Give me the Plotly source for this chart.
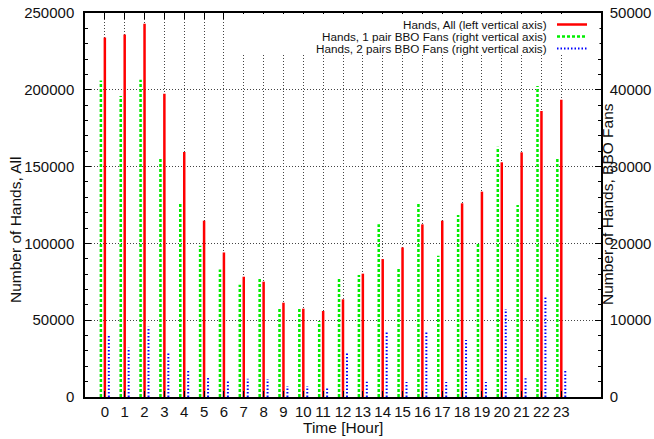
import plotly.graph_objects as go

hours = list(range(24))
hands_all = [234000, 236000, 243000, 197500, 159500, 114800, 94100, 78300,
             75100, 61400, 57500, 56000, 63600, 80300, 89800, 97400,
             112400, 114800, 126100, 133700, 152800, 159300, 186200, 193600]
hands_1pair = [41200, 39200, 41300, 31100, 25300, 19700, 16600, 14600,
               15600, 11600, 11550, 9900, 15450, 15900, 22500, 16900,
               25300, 18400, 23700, 20000, 32600, 25000, 40500, 31250]
hands_2pairs = [7940, 6420, 9150, 5770, 3520, 2520, 2210, 2390,
                2340, 1430, 1430, 1170, 5770, 1990, 8590, 1950,
                8590, 1950, 7420, 1950, 11460, 2430, 13110, 3650]
x_tick_labels = [str(h) for h in hours]
legend_labels = ["Hands, All (left vertical axis)",
                 "Hands, 1 pair BBO Fans (right vertical axis)",
                 "Hands, 2 pairs BBO Fans (right vertical axis)"]

FONT = "Liberation Sans, Arial, sans-serif"
W, H = 654, 439
L, R, T, B = 85, 601, 13, 397


def px(xp):
    return (xp - L) / (R - L)


def py(yp):
    return (B - yp) / (B - T)


def impulses(xs, ys, off):
    xx, yy = [], []
    for x, y in zip(xs, ys):
        xx += [x + off, x + off, None]
        yy += [0, y, None]
    return xx, yy


fig = go.Figure()
gx, gy = impulses(hours, hands_1pair, -0.2)
fig.add_trace(go.Scatter(x=gx, y=gy, mode="lines", yaxis="y2",
                         line=dict(color="#00ee00", width=2.5, dash="3px,2px"),
                         name=legend_labels[1], showlegend=False, hoverinfo="skip"))
rx, ry = impulses(hours, hands_all, 0.0)
fig.add_trace(go.Scatter(x=rx, y=ry, mode="lines", yaxis="y",
                         line=dict(color="#ff0000", width=2.5),
                         name=legend_labels[0], showlegend=False, hoverinfo="skip"))
bx, by = impulses(hours, hands_2pairs, 0.2)
fig.add_trace(go.Scatter(x=bx, y=by, mode="lines", yaxis="y2",
                         line=dict(color="#0000ff", width=2, dash="1.5px,2px"),
                         name=legend_labels[2], showlegend=False, hoverinfo="skip"))

grid = dict(showgrid=True, gridcolor="#444", gridwidth=1, griddash="1px,2px")
axfont = dict(family=FONT, size=15, color="#111")

fig.update_layout(
    width=W, height=H,
    margin=dict(l=L, r=W - R, t=T, b=H - B, autoexpand=False),
    paper_bgcolor="white", plot_bgcolor="white",
    showlegend=False,
    xaxis=dict(range=[-1, 25], tickvals=hours, ticktext=x_tick_labels, tickangle=0,
               ticks="inside", ticklen=6, tickcolor="#000", automargin=False,
               showline=True, linecolor="#000", linewidth=1.5, mirror="ticks",
               zeroline=False, tickfont=axfont, ticklabelstandoff=0, **grid),
    yaxis=dict(range=[0, 250000], dtick=50000, tickformat="d", automargin=False,
               ticks="inside", ticklen=6, tickcolor="#000",
               minor=dict(ticks="inside", ticklen=3, dtick=10000, tickcolor="#000", showgrid=False),
               showline=True, linecolor="#000", linewidth=1.5,
               zeroline=False, tickfont=axfont, ticklabelstandoff=6, **grid),
    yaxis2=dict(range=[0, 50000], dtick=10000, tickformat="d", overlaying="y", side="right",
                ticks="inside", ticklen=6, tickcolor="#000", automargin=False,
                minor=dict(ticks="inside", ticklen=3, dtick=2000, tickcolor="#000"),
                showline=True, linecolor="#000", linewidth=1.5,
                showgrid=False, zeroline=False, tickfont=axfont, ticklabelstandoff=4),
)

shapes = [dict(type="rect", xref="paper", yref="paper", x0=px(235), x1=px(599.5),
               y0=py(54), y1=py(14), fillcolor="white", line=dict(width=0), layer="above")]
sample_styles = [dict(color="#ff0000", width=2.5),
                 dict(color="#00ee00", width=2.5, dash="3px,2px"),
                 dict(color="#0000ff", width=2, dash="1.5px,2px")]
rows = [24.5, 36.5, 48.5]
annotations = []
for lab, st, ry_ in zip(legend_labels, sample_styles, rows):
    annotations.append(dict(text=lab, xref="paper", yref="paper", x=px(549), y=py(ry_),
                            xanchor="right", yanchor="middle", showarrow=False,
                            font=dict(family=FONT, size=11.7, color="#111")))
    shapes.append(dict(type="line", xref="paper", yref="paper", x0=px(557), x1=px(587),
                       y0=py(ry_), y1=py(ry_), line=st, layer="above"))

annotations.append(dict(text="Number of Hands, All", xref="paper", yref="paper",
                        x=px(15), y=py(230), textangle=-90, showarrow=False,
                        xanchor="center", yanchor="middle",
                        font=dict(family=FONT, size=15.5, color="#111")))
annotations.append(dict(text="Number of Hands, BBO Fans", xref="paper", yref="paper",
                        x=px(607), y=py(204), textangle=-90, showarrow=False,
                        xanchor="center", yanchor="middle",
                        font=dict(family=FONT, size=15.5, color="#111")))
annotations.append(dict(text="Time [Hour]", xref="paper", yref="paper",
                        x=px(343), y=py(427), showarrow=False,
                        xanchor="center", yanchor="middle",
                        font=dict(family=FONT, size=15.5, color="#111")))

fig.update_layout(shapes=shapes, annotations=annotations)
fig.write_html("out.html", config={"displayModeBar": False},
               post_script="document.body.style.margin='0';document.body.style.overflow='hidden';")
